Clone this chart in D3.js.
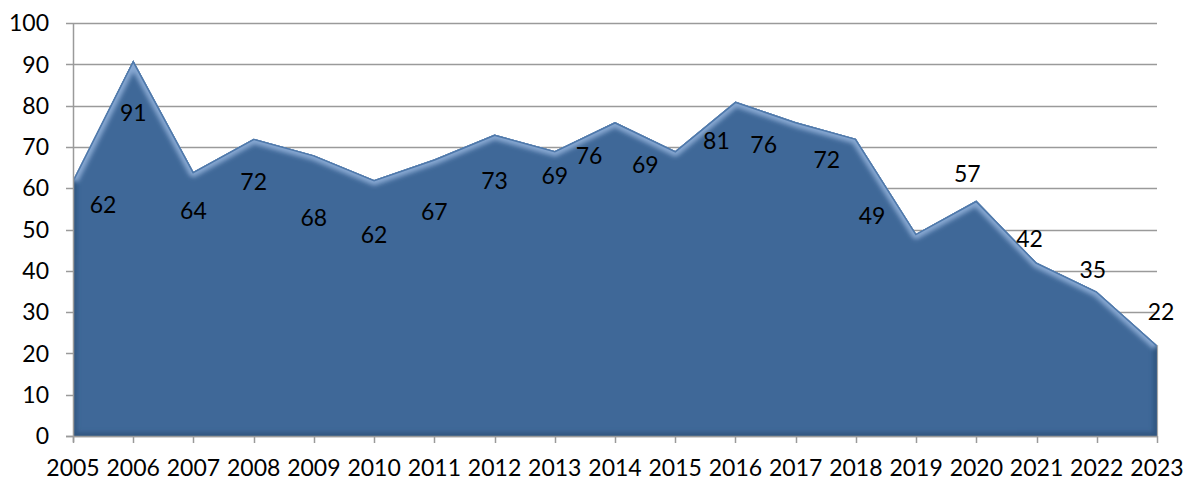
<!DOCTYPE html>
<html>
<head>
<meta charset="utf-8">
<script src="https://cdn.jsdelivr.net/npm/d3@7"></script>
<style>
  body { margin: 0; background: #fff; }
  text { font-family: Lato, "Open Sans", sans-serif; fill: #000; }
</style>
</head>
<body>
<div id="chart"></div>
<script>
// values
let years = [2005, 2006, 2007, 2008, 2009, 2010, 2011, 2012, 2013, 2014,
             2015, 2016, 2017, 2018, 2019, 2020, 2021, 2022, 2023];
let values = [62, 91, 64, 72, 68, 62, 67, 73, 69, 76,
              69, 81, 76, 72, 49, 57, 42, 35, 22];
let yTicks = [0, 10, 20, 30, 40, 50, 60, 70, 80, 90, 100];

// excel put the data labels in odd places, nudge them (px) to match
let labelDx = [30, 0, 0, 0, 0, 0, 0, 0, 0, -26, -30, -19, -32, -29, -44, -9, -7, -4, 4];
let labelDy = [25, 53, 39, 43, 63, 55, 52, 46, 25, 34, 14, 39, 23, 21, -18, -27, -24, -22, -33];

let width = 1184,
    height = 480;

let fontSize = "23px";

let x = d3.scalePoint()
    .domain(years)
    .range([73, 1157]);

let y = d3.scaleLinear()
    .domain([0, 100])
    .range([436, 23]);

let svg = d3.select("#chart").append("svg")
    .attr("width", width)
    .attr("height", height);

let defs = svg.append("defs");

let blur = defs.append("filter").attr("id", "soft")
    .attr("x", "-5%").attr("y", "-5%").attr("width", "110%").attr("height", "110%");
blur.append("feGaussianBlur").attr("stdDeviation", 2.2);

// gridlines + y ticks
let grid = svg.append("g");
grid.selectAll("line")
    .data(yTicks)
    .enter()
    .append("line")
    .attr("x1", 66)
    .attr("x2", x(2023))
    .attr("y1", d => Math.round(y(d)) + 0.5)
    .attr("y2", d => Math.round(y(d)) + 0.5)
    .attr("stroke", "#9a9a9a")
    .attr("stroke-width", 1.3);

grid.selectAll("text")
    .data(yTicks)
    .enter()
    .append("text")
    .attr("x", 49)
    .attr("y", d => y(d))
    .attr("dy", "0.36em")
    .attr("text-anchor", "end")
    .style("font-size", fontSize)
    .text(d => d);

// the area itself
let pts = years.map((yr, i) => [yr, values[i]]);

let area = d3.area()
    .x(d => x(d[0]))
    .y0(y(0))
    .y1(d => y(d[1]));

let line = d3.line()
    .x(d => x(d[0]))
    .y(d => y(d[1]));

defs.append("clipPath").attr("id", "areaClip")
    .append("path")
    .attr("d", area(pts));

svg.append("path")
    .attr("d", area(pts))
    .attr("fill", "#3f6898");

let bevel = svg.append("g").attr("clip-path", "url(#areaClip)");

// dark rim all round
bevel.append("path")
    .attr("d", area(pts))
    .attr("fill", "none")
    .attr("stroke", "#2c4d75")
    .attr("stroke-width", 7)
    .attr("filter", "url(#soft)")
    .attr("opacity", 0.7);

// light highlight along the top
bevel.append("path")
    .attr("d", line(pts))
    .attr("fill", "none")
    .attr("stroke", "#86a7d2")
    .attr("stroke-width", 11)
    .attr("stroke-linejoin", "round")
    .attr("filter", "url(#soft)");

bevel.append("path")
    .attr("d", line(pts))
    .attr("fill", "none")
    .attr("stroke", "#4f79ab")
    .attr("stroke-width", 3);

// axes lines
svg.append("line")
    .attr("x1", 73.5).attr("x2", 73.5)
    .attr("y1", y(100)).attr("y2", y(0) + 6)
    .attr("stroke", "#9a9a9a")
    .attr("stroke-width", 1.5);

svg.append("line")
    .attr("x1", 66).attr("x2", x(2023) + 1)
    .attr("y1", y(0) + 0.5).attr("y2", y(0) + 0.5)
    .attr("stroke", "#9a9a9a")
    .attr("stroke-width", 1.5);

svg.append("line")
    .attr("x1", x(2023) + 0.5).attr("x2", x(2023) + 0.5)
    .attr("y1", y(22)).attr("y2", y(0))
    .attr("stroke", "#a8a8a8")
    .attr("stroke-width", 1.2);

let xAxis = svg.append("g");
xAxis.selectAll("line")
    .data(years)
    .enter()
    .append("line")
    .attr("x1", d => Math.round(x(d)) + 0.5)
    .attr("x2", d => Math.round(x(d)) + 0.5)
    .attr("y1", y(0))
    .attr("y2", y(0) + 7)
    .attr("stroke", "#9a9a9a")
    .attr("stroke-width", 1.5);

xAxis.selectAll("text")
    .data(years)
    .enter()
    .append("text")
    .attr("x", d => x(d))
    .attr("y", 476)
    .attr("text-anchor", "middle")
    .style("font-size", fontSize)
    .text(d => d);

// data labels
svg.append("g")
    .selectAll("text")
    .data(pts)
    .enter()
    .append("text")
    .attr("x", (d, i) => x(d[0]) + labelDx[i])
    .attr("y", (d, i) => y(d[1]) + labelDy[i])
    .attr("dy", "0.36em")
    .attr("text-anchor", "middle")
    .style("font-size", fontSize)
    .text(d => d[1]);
</script>
</body>
</html>
